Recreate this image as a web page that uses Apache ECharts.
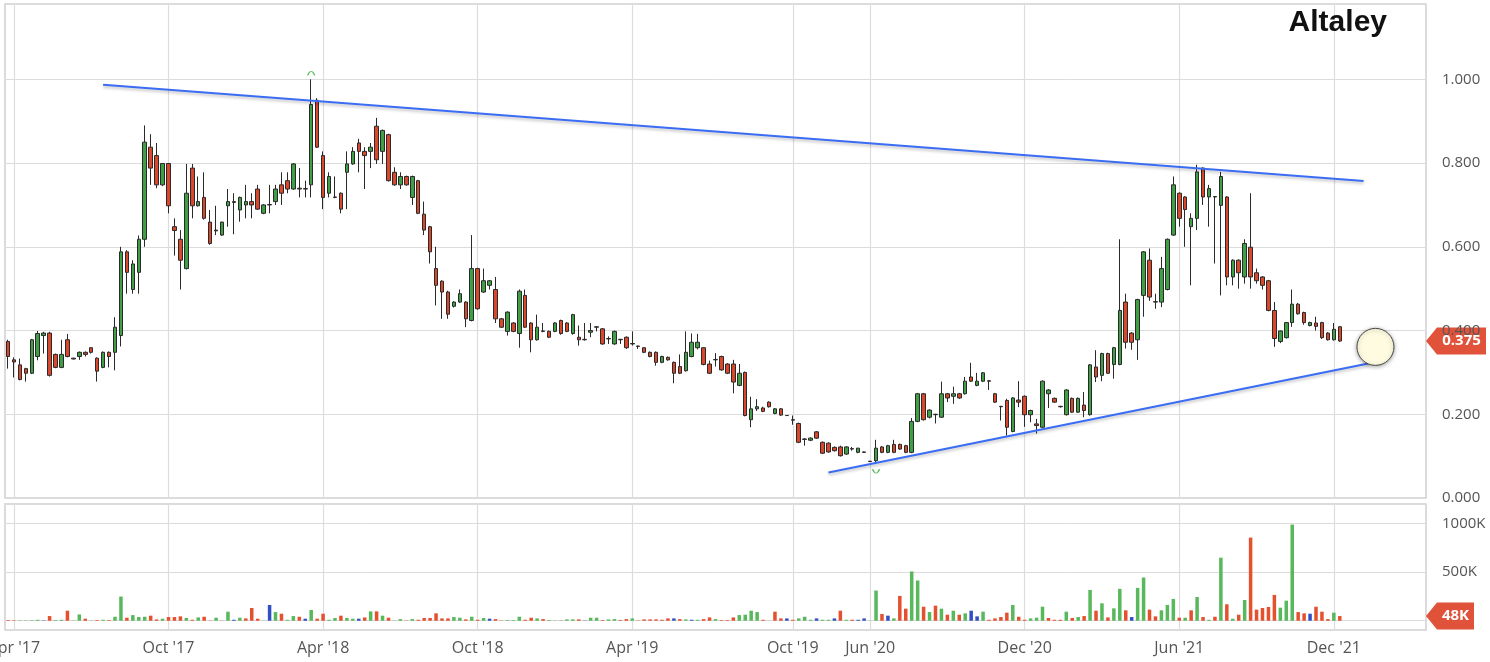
<!DOCTYPE html>
<html>
<head>
<meta charset="utf-8">
<title>Altaley</title>
<script src="https://cdn.jsdelivr.net/npm/echarts@6/dist/echarts.min.js"></script>
<style>
html, body { margin: 0; padding: 0; background: #fff; }
#chart { width: 1490px; height: 662px; }
</style>
</head>
<body>
<div id="chart"></div>
<script>
// weekly candles, one per week, Apr '17 .. Dec '21
const open = [
  .374,.330,.318,.309,.298,.338,.388,.394,.343,.312,
  .378,.334,.338,.348,.359,.334,.312,.348,.348,.388,
  .588,.498,.539,.618,.838,.818,.748,.799,.648,.618,
  .548,.788,.698,.718,.659,.640,.628,.698,.708,.688,
  .700,.708,.738,.680,.701,.708,.748,.758,.738,.740,
  .739,.748,.950,.818,.728,.719,.728,.778,.798,.848,
  .828,.828,.888,.828,.868,.778,.748,.768,.718,.758,
  .678,.648,.548,.518,.492,.458,.468,.468,.424,.548,
  .492,.508,.498,.428,.398,.418,.393,.484,.418,.378,
  .399,.398,.398,.424,.418,.393,.384,.379,.396,.409,
  .404,.381,.368,.379,.384,.369,.363,.359,.348,.348,
  .324,.336,.324,.314,.304,.338,.359,.359,.320,.331,
  .338,.320,.320,.269,.300,.187,.213,.215,.229,.202,
  .213,.197,.187,.178,.141,.138,.158,.133,.131,.121,
  .122,.105,.118,.109,.110,.088,.089,.122,.109,.128,
  .128,.125,.109,.183,.249,.193,.200,.193,.249,.243,
  .249,.249,.289,.269,.279,.280,.249,.219,.233,.159,
  .234,.243,.199,.177,.169,.249,.238,.219,.199,.238,
  .205,.222,.199,.313,.293,.345,.319,.319,.468,.394,
  .378,.484,.568,.469,.468,.498,.628,.728,.719,.648,
  .668,.788,.719,.720,.699,.719,.528,.568,.528,.599,
  .538,.528,.519,.448,.374,.383,.419,.463,.443,.412,
  .418,.419,.394,.378,.409
];
const close = [
  .338,.325,.283,.298,.378,.393,.394,.293,.312,.343,
  .338,.332,.348,.343,.348,.303,.348,.338,.408,.588,
  .539,.559,.618,.850,.788,.748,.799,.698,.639,.568,
  .728,.698,.708,.668,.608,.638,.659,.708,.706,.718,
  .708,.700,.690,.700,.700,.738,.728,.738,.798,.738,
  .738,.940,.838,.718,.768,.718,.690,.798,.828,.828,
  .818,.838,.808,.878,.758,.748,.768,.748,.768,.680,
  .640,.588,.508,.492,.439,.468,.488,.428,.548,.452,
  .519,.519,.428,.408,.444,.398,.494,.408,.378,.408,
  .398,.384,.418,.393,.398,.438,.378,.378,.400,.408,
  .368,.380,.398,.378,.359,.368,.362,.348,.338,.324,
  .338,.330,.298,.298,.348,.372,.372,.319,.298,.330,
  .306,.298,.277,.298,.197,.213,.218,.207,.218,.213,
  .198,.197,.186,.133,.140,.143,.143,.107,.110,.113,
  .101,.122,.117,.119,.109,.087,.119,.109,.125,.109,
  .117,.109,.183,.249,.187,.210,.199,.249,.239,.249,
  .239,.279,.279,.279,.299,.279,.229,.218,.169,.239,
  .229,.199,.209,.173,.279,.258,.229,.218,.258,.205,
  .238,.209,.318,.289,.345,.298,.359,.448,.372,.372,
  .474,.588,.480,.468,.548,.618,.748,.668,.689,.668,
  .779,.719,.739,.719,.768,.528,.568,.538,.608,.528,
  .519,.508,.448,.381,.399,.419,.463,.440,.419,.419,
  .410,.383,.378,.403,.375
];
const low = [
  .309,.288,.281,.278,.296,.329,.345,.290,.310,.310,
  .336,.331,.330,.338,.345,.278,.310,.312,.305,.362,
  .488,.488,.488,.600,.748,.740,.745,.680,.579,.498,
  .546,.668,.696,.665,.605,.628,.626,.648,.630,.660,
  .668,.668,.688,.678,.680,.700,.700,.728,.736,.718,
  .718,.718,.836,.690,.718,.716,.680,.690,.796,.778,
  .738,.788,.798,.798,.756,.746,.738,.746,.700,.678,
  .628,.560,.460,.428,.428,.455,.466,.408,.422,.450,
  .490,.498,.418,.406,.388,.396,.359,.406,.348,.376,
  .396,.382,.396,.390,.396,.390,.364,.376,.384,.398,
  .366,.368,.366,.368,.356,.364,.356,.346,.336,.316,
  .322,.328,.274,.296,.302,.336,.355,.317,.296,.314,
  .304,.296,.250,.267,.195,.169,.208,.205,.216,.200,
  .196,.196,.175,.131,.125,.136,.141,.105,.108,.111,
  .099,.103,.113,.107,.108,.086,.081,.107,.107,.107,
  .115,.107,.107,.181,.185,.190,.178,.191,.229,.225,
  .237,.247,.277,.267,.277,.258,.227,.185,.149,.157,
  .217,.170,.181,.154,.167,.215,.227,.216,.197,.203,
  .203,.193,.197,.277,.279,.296,.285,.317,.357,.354,
  .330,.433,.471,.452,.456,.496,.626,.648,.600,.508,
  .640,.700,.648,.560,.484,.508,.508,.500,.512,.500,
  .512,.498,.446,.361,.370,.381,.409,.438,.414,.410,
  .400,.380,.376,.376,.373
];
const high = [
  .378,.336,.333,.311,.380,.399,.397,.397,.345,.378,
  .392,.335,.350,.350,.360,.336,.350,.350,.432,.600,
  .592,.568,.627,.890,.869,.848,.800,.800,.668,.640,
  .798,.798,.768,.778,.688,.698,.660,.738,.728,.720,
  .748,.728,.748,.702,.748,.748,.778,.778,.800,.788,
  .758,1.000,.955,.828,.778,.768,.730,.828,.838,.858,
  .838,.848,.908,.880,.870,.790,.778,.770,.770,.760,
  .708,.650,.600,.520,.495,.470,.498,.470,.628,.550,
  .548,.520,.528,.430,.446,.420,.498,.498,.420,.438,
  .418,.400,.420,.426,.420,.440,.412,.418,.418,.410,
  .406,.386,.400,.380,.386,.398,.364,.360,.350,.350,
  .340,.338,.326,.343,.398,.393,.392,.360,.328,.346,
  .340,.322,.330,.320,.302,.242,.236,.218,.231,.215,
  .215,.198,.197,.180,.143,.145,.160,.135,.133,.123,
  .125,.124,.122,.120,.111,.088,.139,.124,.127,.139,
  .130,.127,.191,.251,.251,.212,.201,.278,.251,.266,
  .251,.289,.323,.299,.301,.281,.251,.220,.237,.241,
  .279,.245,.211,.189,.281,.260,.240,.220,.260,.240,
  .240,.253,.320,.353,.347,.347,.361,.618,.488,.396,
  .476,.590,.596,.488,.576,.620,.768,.730,.721,.680,
  .796,.790,.748,.721,.779,.721,.570,.570,.618,.728,
  .548,.530,.521,.468,.400,.420,.498,.466,.445,.421,
  .433,.421,.396,.418,.411
];
// weekly volume, thousands of shares
const volume = [
  7,5,4,4,5,10,4,48,7,10,
  103,3,65,21,3,7,10,7,41,248,
  31,58,38,41,52,14,21,38,38,45,
  28,10,34,41,3,31,3,93,10,31,
  24,131,21,2,162,89,72,10,48,41,
  21,110,21,72,10,28,52,28,21,21,
  34,96,96,52,31,3,17,3,17,10,
  28,28,76,24,24,38,31,14,41,10,
  28,21,17,3,7,7,41,10,31,24,
  17,7,3,3,14,14,14,3,31,31,
  7,14,17,7,17,24,3,14,14,14,
  10,24,24,17,14,10,10,17,34,17,
  7,7,34,58,62,103,89,10,2,93,
  24,24,10,24,41,10,24,10,10,24,
  103,10,10,10,24,2,310,69,52,24,
  255,124,506,413,144,89,155,124,62,103,
  62,76,103,45,93,10,24,38,83,162,
  41,10,24,31,144,28,10,10,93,28,
  38,48,316,103,179,34,127,327,107,38,
  337,444,114,45,107,162,224,31,31,107,
  244,38,10,41,647,169,21,62,213,853,
  114,131,141,265,134,206,987,89,76,72,
  144,93,17,83,48
];
// g = up week, r = down week, b = unchanged
const volSide = (
  'rrggggbrgg' + 'rggrgrgrgg' + 'rgggrrgrrr' + 'grgrrgggbg' + 'rrrgbgrggr' +
  'bgrrggrggb' + 'rgrgrggrgr' + 'rrrrrggrgr' + 'gbrrgggrrg' + 'rggrggrbgg' +
  'rggrrgrrrr' + 'rrbrgbgrrg' + 'rrrggggrgr' + 'rbrgggbggb' + 'rgrbbggrbg' +
  'rrggrgrgrg' + 'rgbbgrrrrg' + 'rrgggrrrgr' + 'grgrgrggrb' + 'ggrrgggrgr' +
  'grgrgrgrgr' + 'rrrrgggrrb' + 'rrrgr'
).split('');

const weekCount = 239; // data weeks plus empty weeks to the right
const tickIdx = [1, 27, 53, 79, 105, 132, 145, 171, 197, 223];
const tickText = ["Apr '17", "Oct '17", "Apr '18", "Oct '18", "Apr '19", "Oct '19", "Jun '20", "Dec '20", "Jun '21", "Dec '21"];
const upperTrend = [[16, 0.987], [228, 0.757]];
const lowerTrend = [[138, 0.061], [229, 0.322]];
const circleMark = [[230, 0.361]];

const weeks = [];
for (let i = 0; i < weekCount; i++) weeks.push(String(i));

const upColor = '#3f9f45';
const downColor = '#da472a';
const volColors = { g: '#58b85c', r: '#e5502f', b: '#3050c2' };
const gridColor = '#dcdcdc';
const isTick = (i) => tickIdx.indexOf(i) >= 0;

const chart = echarts.init(document.getElementById('chart'));

const option = {
  animation: false,
  backgroundColor: '#fff',
  title: {
    text: 'Altaley',
    right: 103,
    top: 8,
    padding: 0,
    textStyle: { fontFamily: 'Liberation Sans', fontSize: 30, fontWeight: 'bold', color: '#111' }
  },
  grid: [
    { left: 5, top: 4, width: 1421, height: 494, show: true, borderColor: '#cfcfcf', borderWidth: 1.5, outerBoundsMode: 'none', containLabel: false },
    { left: 5, top: 504, width: 1421, height: 126, show: true, borderColor: '#cfcfcf', borderWidth: 1.5, outerBoundsMode: 'none', containLabel: false }
  ],
  xAxis: [
    {
      type: 'category', gridIndex: 0, data: weeks, boundaryGap: true,
      axisLine: { show: false }, axisTick: { show: false }, axisLabel: { show: false },
      splitLine: { show: true, alignWithLabel: true, interval: isTick, lineStyle: { color: gridColor, width: 1.2 } }
    },
    {
      type: 'category', gridIndex: 1, data: weeks, boundaryGap: true,
      axisLine: { show: false }, axisTick: { show: false },
      axisLabel: {
        interval: isTick, margin: 10, color: '#555', fontFamily: 'Open Sans', fontSize: 16,
        formatter: (v) => tickText[tickIdx.indexOf(+v)] || ''
      },
      splitLine: { show: true, alignWithLabel: true, interval: isTick, lineStyle: { color: gridColor, width: 1.2 } }
    }
  ],
  yAxis: [
    {
      type: 'value', gridIndex: 0, position: 'right', min: 0, max: 1.18, interval: 0.2,
      axisLine: { show: false }, axisTick: { show: false },
      axisLabel: {
        margin: 16, color: '#555', fontFamily: 'Open Sans', fontSize: 15,
        showMaxLabel: false, formatter: (v) => v.toFixed(3)
      },
      splitLine: { lineStyle: { color: gridColor } }
    },
    {
      type: 'value', gridIndex: 1, position: 'right', min: -95, max: 1198,
      splitNumber: 3, minInterval: 500, maxInterval: 500,
      axisLine: { show: false }, axisTick: { show: false },
      axisLabel: {
        margin: 16, color: '#555', fontFamily: 'Open Sans', fontSize: 15,
        showMinLabel: false, showMaxLabel: false,
        formatter: (v) => (v === 500 || v === 1000) ? v + 'K' : ''
      },
      splitLine: { lineStyle: { color: gridColor } }
    }
  ],
  series: [
    {
      type: 'candlestick',
      xAxisIndex: 0, yAxisIndex: 0,
      barWidth: 4,
      data: open.map((o, i) => [o, close[i], low[i], high[i]]),
      itemStyle: {
        color: upColor, color0: downColor,
        borderColor: '#2a2a2a', borderColor0: '#2a2a2a', borderColorDoji: '#2a2a2a', borderWidth: 1
      },
      markPoint: {
        symbolSize: [7, 4],
        label: { show: false },
        itemStyle: { color: 'transparent', borderColor: '#5cc060', borderWidth: 1.2 },
        data: [
          { type: 'max', valueDim: 'highest', symbol: 'path://M0,8 Q5,0 10,8', symbolOffset: [0, -6] },
          { type: 'min', valueDim: 'lowest', symbol: 'path://M0,0 Q5,8 10,0', symbolOffset: [0, 7] }
        ]
      },
      z: 3
    },
    {
      type: 'line', xAxisIndex: 0, yAxisIndex: 0, data: upperTrend, symbol: 'none',
      lineStyle: { color: '#3a6cf4', width: 2, shadowColor: 'rgba(0,0,0,0.25)', shadowBlur: 3, shadowOffsetY: 2 },
      z: 4
    },
    {
      type: 'line', xAxisIndex: 0, yAxisIndex: 0, data: lowerTrend, symbol: 'none',
      lineStyle: { color: '#3a6cf4', width: 2, shadowColor: 'rgba(0,0,0,0.25)', shadowBlur: 3, shadowOffsetY: 2 },
      z: 4
    },
    {
      type: 'scatter', xAxisIndex: 0, yAxisIndex: 0, data: circleMark, symbolSize: 37,
      itemStyle: { color: '#fefbe0', opacity: 1, borderColor: '#4a4a4a', borderWidth: 1, shadowColor: 'rgba(0,0,0,0.35)', shadowBlur: 4, shadowOffsetY: 1 },
      z: 5
    },
    {
      type: 'bar', xAxisIndex: 1, yAxisIndex: 1, barWidth: 3.5,
      data: volume.map((v, i) => ({ value: v, itemStyle: { color: volColors[volSide[i]] } }))
    }
  ]
};

chart.setOption(option);

function badge(y, text, right) {
  return {
    type: 'group',
    z: 100,
    children: [
      {
        type: 'polygon',
        shape: { points: [[1426, y], [1437, y - 13.5], [right, y - 13.5], [right, y + 13.5], [1437, y + 13.5]] },
        style: { fill: '#e0533a' }
      },
      {
        type: 'text',
        style: {
          text: text, x: (1437 + right) / 2, y: y,
          align: 'center', verticalAlign: 'middle',
          fill: '#fff', font: 'bold 15px "Open Sans"'
        }
      }
    ]
  };
}

const lastClose = close[close.length - 1];
const lastVol = volume[volume.length - 1];
const priceY = chart.convertToPixel({ yAxisIndex: 0 }, lastClose);
const volY = chart.convertToPixel({ yAxisIndex: 1 }, lastVol);
chart.setOption({
  graphic: [
    badge(priceY, lastClose.toFixed(3), 1486),
    badge(volY, lastVol + 'K', 1474)
  ]
});
</script>
</body>
</html>
